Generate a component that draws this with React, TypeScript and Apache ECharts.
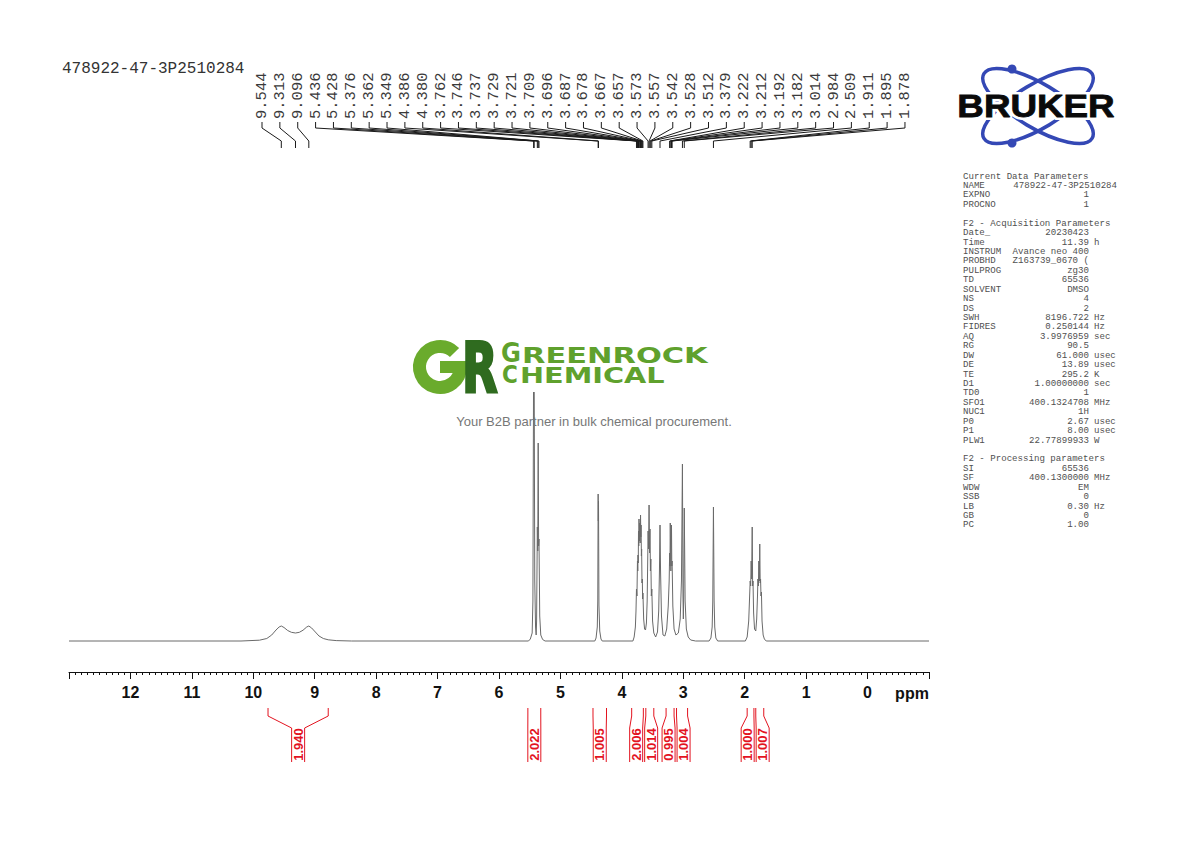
import React, { useEffect, useRef } from 'react';
import * as echarts from 'echarts';

const sampleName = '478922-47-3P2510284';

const peakShifts = [
  9.544, 9.313, 9.096, 5.436, 5.428, 5.376, 5.362, 5.349, 4.386, 4.38,
  3.762, 3.746, 3.737, 3.729, 3.721, 3.709, 3.696, 3.687, 3.678, 3.667,
  3.657, 3.573, 3.557, 3.542, 3.528, 3.512, 3.379, 3.222, 3.212, 3.192,
  3.182, 3.014, 2.984, 2.509, 1.911, 1.895, 1.878,
];

const integralFrom = [9.76, 5.53, 4.47, 3.84, 3.61, 3.28, 3.11, 1.96, 1.82];
const integralTo = [8.78, 5.32, 4.25, 3.65, 3.48, 3.15, 2.93, 1.85, 1.69];
const integralValues = ['1.940', '2.022', '1.005', '2.006', '1.014', '0.995', '1.004', '1.000', '1.007'];

// [chemical shift (ppm), intensity]
const spectrum: [number, number][] = [
  [13.0, 0], [10.2, 0], [9.9, 0.8], [9.78, 2.5], [9.7, 6], [9.63, 11], [9.58, 14], [9.544, 15],
  [9.5, 13.5], [9.44, 10.5], [9.38, 8.7], [9.313, 8], [9.25, 8.7], [9.19, 10.8], [9.13, 14],
  [9.096, 15], [9.05, 13], [8.99, 9], [8.93, 5], [8.86, 2.5], [8.78, 1.2], [8.65, 0.4], [8.4, 0],
  [5.52, 0], [5.49, 2], [5.46, 8], [5.448, 40], [5.436, 296], [5.432, 262], [5.428, 286],
  [5.418, 60], [5.405, 14], [5.395, 6], [5.388, 20], [5.376, 114], [5.369, 90], [5.362, 198],
  [5.355, 95], [5.349, 102], [5.337, 25], [5.32, 6], [5.29, 1.5], [5.25, 0],
  [4.44, 0], [4.42, 3], [4.4, 14], [4.392, 40], [4.386, 147], [4.383, 120], [4.38, 140],
  [4.373, 36], [4.36, 10], [4.34, 2], [4.32, 0],
  [3.82, 0], [3.8, 4], [3.78, 14], [3.77, 30], [3.762, 52], [3.754, 45], [3.746, 80], [3.741, 70],
  [3.737, 86], [3.733, 78], [3.729, 110], [3.725, 95], [3.721, 122], [3.715, 100], [3.709, 118],
  [3.702, 98], [3.696, 126], [3.691, 104], [3.687, 116], [3.682, 85], [3.678, 92], [3.672, 58],
  [3.667, 62], [3.662, 42], [3.657, 48], [3.645, 22], [3.63, 12], [3.615, 11], [3.6, 18],
  [3.588, 40], [3.578, 85], [3.573, 110], [3.565, 92], [3.557, 136], [3.549, 88], [3.542, 112],
  [3.535, 70], [3.528, 82], [3.52, 45], [3.512, 52], [3.5, 20], [3.48, 8], [3.45, 4], [3.42, 9],
  [3.4, 30], [3.388, 70], [3.379, 116], [3.37, 70], [3.355, 25], [3.33, 6], [3.3, 5], [3.27, 12],
  [3.245, 35], [3.23, 60], [3.222, 88], [3.217, 75], [3.212, 118], [3.202, 70], [3.192, 116],
  [3.187, 75], [3.182, 80], [3.17, 35], [3.15, 12], [3.12, 6], [3.08, 8], [3.05, 22], [3.03, 60],
  [3.014, 177], [3.005, 45], [2.999, 22], [2.993, 45], [2.984, 133], [2.97, 40], [2.95, 12],
  [2.92, 4], [2.88, 1], [2.8, 0],
  [2.58, 0], [2.55, 3], [2.53, 14], [2.52, 40], [2.509, 134], [2.498, 40], [2.488, 14], [2.47, 3], [2.44, 0],
  [1.99, 0], [1.96, 4], [1.935, 20], [1.92, 45], [1.911, 60], [1.903, 55], [1.895, 80], [1.887, 62],
  [1.878, 114], [1.871, 55], [1.865, 60], [1.855, 28], [1.84, 12], [1.82, 10], [1.805, 22],
  [1.792, 45], [1.785, 62], [1.777, 55], [1.77, 80], [1.762, 60], [1.755, 97], [1.748, 58],
  [1.742, 62], [1.735, 45], [1.728, 49], [1.718, 20], [1.7, 6], [1.68, 2], [1.65, 0],
  [-1.0, 0],
];

const currentNames = ['NAME', 'EXPNO', 'PROCNO'];
const currentValues = [sampleName, '1', '1'];
const acqNames = ['Date_', 'Time', 'INSTRUM', 'PROBHD', 'PULPROG', 'TD', 'SOLVENT', 'NS', 'DS', 'SWH', 'FIDRES', 'AQ', 'RG', 'DW', 'DE', 'TE', 'D1', 'TD0', 'SFO1', 'NUC1', 'P0', 'P1', 'PLW1'];
const acqValues = ['20230423', '11.39', 'Avance neo 400', 'Z163739_0670 (', 'zg30', '65536', 'DMSO', '4', '2', '8196.722', '0.250144', '3.9976959', '90.5', '61.000', '13.89', '295.2', '1.00000000', '1', '400.1324708', '1H', '2.67', '8.00', '22.77899933'];
const acqUnits = ['', 'h', '', '', '', '', '', '', '', 'Hz', 'Hz', 'sec', '', 'usec', 'usec', 'K', 'sec', '', 'MHz', '', 'usec', 'usec', 'W'];
const procNames = ['SI', 'SF', 'WDW', 'SSB', 'LB', 'GB', 'PC'];
const procValues = ['65536', '400.1300000', 'EM', '0', '0.30', '0', '1.00'];
const procUnits = ['', 'MHz', '', '', 'Hz', '', ''];

const MONO = '"Liberation Mono", "DejaVu Sans Mono", monospace';
const SANS = '"Liberation Sans", Arial, sans-serif';
const DEJAVU = '"DejaVu Sans", sans-serif';
const LABEL_X0 = 262;
const LABEL_STEP = 17.86;
const RED = '#e3131f';

function spreadLabels(xs: number[], gap: number): number[] {
  const order = xs.map((_, i) => i).sort((a, b) => xs[a] - xs[b]);
  let groups = order.map((i) => ({ idx: [i], center: xs[i] }));
  let changed = true;
  while (changed) {
    changed = false;
    for (let g = 0; g < groups.length - 1; g++) {
      const A = groups[g];
      const B = groups[g + 1];
      const aRight = A.center + ((A.idx.length - 1) * gap) / 2;
      const bLeft = B.center - ((B.idx.length - 1) * gap) / 2;
      if (bLeft - aRight < gap) {
        const idx = A.idx.concat(B.idx);
        const mean = idx.reduce((s, k) => s + xs[k], 0) / idx.length;
        groups.splice(g, 2, { idx, center: mean });
        changed = true;
        break;
      }
    }
  }
  const out: number[] = new Array(xs.length);
  groups.forEach((G) => G.idx.forEach((k, j) => { out[k] = G.center + (j - (G.idx.length - 1) / 2) * gap; }));
  return out;
}

function paramGraphics(): any[] {
  const els: any[] = [];
  const x0 = 963;
  const y0 = 176;
  const dy = 9.43;
  const txt = (x: number, y: number, t: string, align = 'left') => ({
    type: 'text', x, y, z: 60,
    style: { text: t, fontFamily: MONO, fontSize: 9.1, fill: '#505050', align, verticalAlign: 'middle' },
  });
  const addRow = (row: number, name: string, value: string, unit: string) => {
    const y = y0 + row * dy;
    els.push(txt(x0, y, name));
    const end = value.length > 15 ? 1117 : 1089;
    els.push(txt(end, y, value, 'right'));
    if (unit) els.push(txt(1094, y, unit));
  };
  els.push(txt(x0, y0, 'Current Data Parameters'));
  currentNames.forEach((n, i) => addRow(1 + i, n, currentValues[i], ''));
  els.push(txt(x0, y0 + 5 * dy, 'F2 - Acquisition Parameters'));
  acqNames.forEach((n, i) => addRow(6 + i, n, acqValues[i], acqUnits[i]));
  els.push(txt(x0, y0 + 30 * dy, 'F2 - Processing parameters'));
  procNames.forEach((n, i) => addRow(31 + i, n, procValues[i], procUnits[i]));
  return els;
}

function logoGraphics(): any[] {
  const els: any[] = [];
  const light = '#6aab2c';
  const dark = '#2f6b1f';
  const word = '#5fa12d';
  // Greenrock watermark
  els.push({ type: 'rect', z: 50, shape: { x: 410, y: 336, width: 302, height: 56 }, style: { fill: '#ffffff' } });
  els.push({ type: 'arc', z: 51, shape: { cx: 440, cy: 367, r: 20.5, startAngle: 0, endAngle: 5.5, clockwise: true }, style: { fill: 'none', stroke: light, lineWidth: 13, lineCap: 'butt' } });
  els.push({ type: 'rect', z: 51, shape: { x: 440, y: 361, width: 27, height: 12 }, style: { fill: light } });
  els.push({ type: 'text', z: 52, x: 462, y: 368, scaleX: 0.66, style: { text: 'R', fontFamily: DEJAVU, fontWeight: 'bold', fontSize: 70, fill: dark, stroke: dark, lineWidth: 3, align: 'left', verticalAlign: 'middle' } });
  els.push({ type: 'text', z: 52, x: 501, y: 353, scaleX: 0.9, style: { text: 'G', fontFamily: DEJAVU, fontWeight: 'bold', fontSize: 27, fill: word, align: 'left', verticalAlign: 'middle' } });
  els.push({ type: 'text', z: 52, x: 522, y: 355.5, scaleX: 1.45, style: { text: 'REENROCK', fontFamily: DEJAVU, fontWeight: 'bold', fontSize: 21, fill: word, align: 'left', verticalAlign: 'middle' } });
  els.push({ type: 'text', z: 52, x: 502, y: 375, scaleX: 0.9, style: { text: 'C', fontFamily: DEJAVU, fontWeight: 'bold', fontSize: 24, fill: word, align: 'left', verticalAlign: 'middle' } });
  els.push({ type: 'text', z: 52, x: 520, y: 375.5, scaleX: 1.37, style: { text: 'HEMICAL', fontFamily: DEJAVU, fontWeight: 'bold', fontSize: 21, fill: word, align: 'left', verticalAlign: 'middle' } });
  els.push({ type: 'text', z: 52, x: 594, y: 421, style: { text: 'Your B2B partner in bulk chemical procurement.', fontFamily: SANS, fontSize: 13, fill: '#777777', align: 'center', verticalAlign: 'middle' } });

  // Bruker logo
  const blue = '#3448b5';
  els.push({ type: 'ellipse', z: 50, x: 1038, y: 106, rotation: 0.54, shape: { cx: 0, cy: 0, rx: 63, ry: 22 }, style: { fill: 'none', stroke: blue, lineWidth: 3.5 } });
  els.push({ type: 'ellipse', z: 50, x: 1038, y: 106, rotation: -0.54, shape: { cx: 0, cy: 0, rx: 63, ry: 22 }, style: { fill: 'none', stroke: blue, lineWidth: 3.5 } });
  els.push({ type: 'circle', z: 51, shape: { cx: 1012, cy: 69, r: 4.5 }, style: { fill: blue } });
  els.push({ type: 'circle', z: 51, shape: { cx: 1012, cy: 143, r: 4.5 }, style: { fill: blue } });
  els.push({ type: 'text', z: 52, x: 1036, y: 106, scaleX: 1.15, style: { text: 'BRUKER', fontFamily: SANS, fontWeight: 'bold', fontSize: 32, fill: '#ffffff', stroke: '#ffffff', lineWidth: 6, align: 'center', verticalAlign: 'middle' } });
  els.push({ type: 'text', z: 53, x: 1036, y: 106, scaleX: 1.15, style: { text: 'BRUKER', fontFamily: SANS, fontWeight: 'bold', fontSize: 32, fill: '#0a0a0a', stroke: '#0a0a0a', lineWidth: 0.8, align: 'center', verticalAlign: 'middle' } });
  return els;
}

export default function App() {
  const ref = useRef<HTMLDivElement>(null);

  useEffect(() => {
    if (!ref.current) return;
    const chart = echarts.init(ref.current, null, { renderer: 'svg' });

    const option: any = {
      animation: false,
      backgroundColor: '#ffffff',
      grid: { left: 69, right: 261, top: 341, bottom: 201 },
      xAxis: {
        type: 'value',
        inverse: true,
        min: -1,
        max: 13,
        interval: 1,
        position: 'bottom',
        offset: 31,
        axisLine: { show: true, onZero: false, lineStyle: { color: '#111111', width: 1 } },
        axisTick: { show: true, length: 7, lineStyle: { color: '#111111', width: 1 } },
        minorTick: { show: true, splitNumber: 10, length: 3, lineStyle: { color: '#111111', width: 1 } },
        splitLine: { show: false },
        axisLabel: {
          margin: 12,
          color: '#111111',
          fontFamily: SANS,
          fontWeight: 'bold',
          fontSize: 16,
          formatter: (v: number) => (v < 0 || v > 12 ? '' : String(v)),
        },
      },
      yAxis: { type: 'value', min: 0, max: 300, show: false },
      series: [
        {
          type: 'line',
          data: spectrum,
          symbol: 'none',
          silent: true,
          clip: false,
          lineStyle: { color: '#6a6a6a', width: 1 },
          z: 2,
        },
        {
          type: 'custom',
          coordinateSystem: 'cartesian2d',
          clip: false,
          silent: true,
          data: peakShifts.map((p) => [p, 0]),
          renderItem: (params: any, api: any) => {
            const i = params.dataIndex;
            const ppm = api.value(0);
            const px = api.coord([ppm, 0])[0];
            const lx = LABEL_X0 + i * LABEL_STEP;
            return {
              type: 'group',
              children: [
                {
                  type: 'text',
                  x: lx,
                  y: 119,
                  rotation: Math.PI / 2,
                  style: { text: ppm.toFixed(3), fontFamily: MONO, fontSize: 15.5, fill: '#3a3a3a', align: 'left', verticalAlign: 'middle' },
                },
                {
                  type: 'polyline',
                  shape: { points: [[lx, 122], [lx, 128], [px, 141], [px, 148]] },
                  style: { stroke: '#1a1a1a', lineWidth: 1, fill: 'none' },
                },
              ],
            };
          },
          z: 3,
        },
        {
          type: 'custom',
          coordinateSystem: 'cartesian2d',
          clip: false,
          silent: true,
          data: integralFrom.map((f, k) => [(f + integralTo[k]) / 2, 0]),
          renderItem: (params: any, api: any) => {
            const i = params.dataIndex;
            const centers = integralFrom.map((f, k) => (api.coord([f, 0])[0] + api.coord([integralTo[k], 0])[0]) / 2);
            const lc = spreadLabels(centers, 15)[i];
            const x1 = api.coord([integralFrom[i], 0])[0];
            const x2 = api.coord([integralTo[i], 0])[0];
            const hw = 6.5;
            const st = { stroke: RED, lineWidth: 1, fill: 'none' };
            return {
              type: 'group',
              children: [
                { type: 'polyline', shape: { points: [[x1, 708], [x1, 716], [lc - hw, 728], [lc - hw, 762]] }, style: st },
                { type: 'polyline', shape: { points: [[x2, 708], [x2, 716], [lc + hw, 728], [lc + hw, 762]] }, style: st },
                {
                  type: 'text',
                  x: lc,
                  y: 744.5,
                  rotation: Math.PI / 2,
                  style: { text: integralValues[i], fontFamily: SANS, fontWeight: 'bold', fontSize: 13, fill: RED, align: 'center', verticalAlign: 'middle' },
                },
              ],
            };
          },
          z: 3,
        },
      ],
      graphic: [
        {
          type: 'text', x: 62, y: 69, z: 60,
          style: { text: sampleName, fontFamily: MONO, fontSize: 16, fill: '#333333', align: 'left', verticalAlign: 'middle' },
        },
        {
          type: 'text', x: 912, y: 693, z: 60,
          style: { text: 'ppm', fontFamily: SANS, fontWeight: 'bold', fontSize: 16, fill: '#111111', align: 'center', verticalAlign: 'middle' },
        },
        ...logoGraphics(),
        ...paramGraphics(),
      ],
    };

    chart.setOption(option);
    return () => chart.dispose();
  }, []);

  return <div ref={ref} style={{ position: 'absolute', left: 0, top: 0, width: 1190, height: 842 }} />;
}
